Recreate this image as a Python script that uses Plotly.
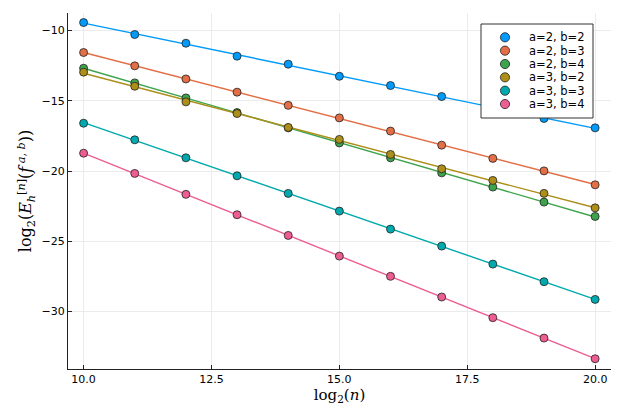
import numpy as np
import plotly.graph_objects as go

x = [10, 11, 12, 13, 14, 15, 16, 17, 18, 19, 20]

labels = ["a=2, b=2", "a=2, b=3", "a=2, b=4", "a=3, b=2", "a=3, b=3", "a=3, b=4"]

a2b2 = [-9.44, -10.29, -10.91, -11.83, -12.40, -13.26, -13.92, -14.70, -15.50, -16.26, -16.93]
a2b3 = [-11.57, -12.52, -13.45, -14.39, -15.33, -16.22, -17.16, -18.16, -19.10, -19.99, -20.98]
a2b4 = [-12.69, -13.73, -14.80, -15.84, -16.93, -18.00, -19.06, -20.13, -21.14, -22.21, -23.23]
a3b2 = [-12.97, -13.97, -15.08, -15.91, -16.90, -17.75, -18.82, -19.84, -20.67, -21.59, -22.62]
a3b3 = [-16.60, -17.78, -19.06, -20.34, -21.59, -22.85, -24.13, -25.34, -26.62, -27.87, -29.13]
a3b4 = [-18.73, -20.17, -21.66, -23.11, -24.58, -26.05, -27.49, -28.96, -30.43, -31.88, -33.35]

series = [a2b2, a2b3, a2b4, a3b2, a3b3, a3b4]
colors = ["#009AFA", "#E26F46", "#3DA44D", "#AC8E18", "#00A9AD", "#ED5D92"]

# figure geometry (pixels)
W, H = 623, 415
L, R, T, B = 68, 12, 13, 46
pw, ph = W - L - R, H - T - B

def px_x(p):
    return (p - L) / pw

def px_y(p):
    return (H - B - p) / ph

fig = go.Figure()

# fitted lines (least squares on the data)
for ys, c in zip(series, colors):
    k, b0 = np.polyfit(x, ys, 1)
    xf = [x[0], x[-1]]
    yf = [k * xv + b0 for xv in xf]
    fig.add_trace(go.Scatter(x=xf, y=yf, mode="lines", line=dict(color=c, width=1.4),
                             showlegend=False, hoverinfo="skip"))

for ys, c, lab in zip(series, colors, labels):
    fig.add_trace(go.Scatter(x=x, y=ys, mode="markers", name=lab, showlegend=False,
                             marker=dict(color=c, size=8, line=dict(color="#222222", width=0.8))))

# custom legend (box, marker symbols, texts)
leg_left, leg_right, leg_top, leg_bot = 481, 593, 24, 118
row0, rowgap = 37.3, 13.35
mk_x, txt_x = 505, 527
fig.add_shape(type="rect", xref="paper", yref="paper",
              x0=px_x(leg_left), x1=px_x(leg_right), y0=px_y(leg_bot), y1=px_y(leg_top),
              line=dict(color="#333333", width=1), fillcolor="white", layer="above")
for i, (lab, c) in enumerate(zip(labels, colors)):
    yc = px_y(row0 + i * rowgap)
    fig.add_shape(type="circle", xref="paper", yref="paper",
                  xsizemode="pixel", ysizemode="pixel",
                  xanchor=px_x(mk_x), yanchor=yc,
                  x0=-4.6, x1=4.6, y0=-4.6, y1=4.6,
                  fillcolor=c, line=dict(color="#222222", width=0.8), layer="above")
    fig.add_annotation(xref="paper", yref="paper", x=px_x(txt_x), y=yc,
                       text=lab, showarrow=False, xanchor="left", yanchor="middle",
                       font=dict(family="DejaVu Sans", size=11.5, color="#000000"))

axis_common = dict(
    showline=True, linecolor="#222222", linewidth=1.2, mirror=False,
    showgrid=True, gridcolor="#EBEBEB", gridwidth=0.8,
    zeroline=False, ticks="inside", ticklen=4, tickcolor="#222222",
    tickfont=dict(family="DejaVu Sans", size=11, color="#000000"),
    automargin=False,
)

fig.update_xaxes(range=[9.695, 20.31], tickmode="linear", tick0=10, dtick=2.5, tickformat=".1f",
                 title=dict(text="log<sub>2</sub>(<i>n</i>)", standoff=2,
                            font=dict(family="DejaVu Serif", size=15, color="#000000")),
                 **axis_common)
fig.update_yaxes(range=[-34.08, -8.76], tickmode="linear", tick0=-30, dtick=5,
                 title=dict(text="log<sub>2</sub>(<i>E</i><sub><i>h</i></sub><sup>[<i>n</i>]</sup>(<i>f</i><sup> <i>a</i>, <i>b</i></sup>))",
                            standoff=5,
                            font=dict(family="DejaVu Serif", size=16, color="#000000")),
                 **axis_common)

fig.update_layout(
    width=W, height=H,
    margin=dict(l=L, r=R, t=T, b=B),
    plot_bgcolor="white", paper_bgcolor="white",
    showlegend=False,
)

fig.write_html("out.html", config={"displayModeBar": False},
               post_script="document.body.style.margin='0';document.body.style.overflow='hidden';")
